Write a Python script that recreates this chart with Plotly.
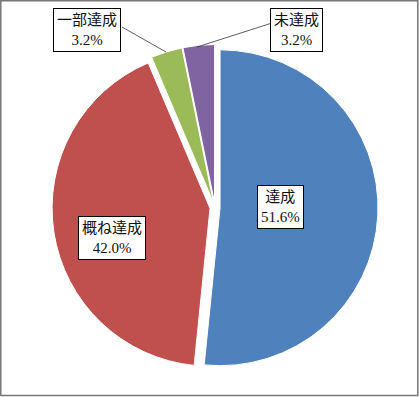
import plotly.graph_objects as go

labels = ["達成", "概ね達成", "一部達成", "未達成"]
values = [51.6, 42.0, 3.2, 3.2]
pct_text = ["51.6%", "42.0%", "3.2%", "3.2%"]
colors = ["#4F81BD", "#C0504D", "#9BBB59", "#8064A2"]
pulls = [0.032, 0.032, 0.032, 0.032]

W, H = 419, 397

def px(x):
    return x / W

def py(y):
    return 1 - y / H

fig = go.Figure(go.Pie(
    labels=labels,
    values=values,
    sort=False,
    direction="clockwise",
    rotation=0,
    pull=pulls,
    marker=dict(colors=colors, line=dict(color="white", width=1)),
    textinfo="none",
    hoverinfo="none",
    showlegend=False,
    domain=dict(x=[52 / W, 378 / W], y=[26.5 / H, 352.5 / H]),
))

font = dict(family="Liberation Serif, Noto Sans CJK JP", size=15, color="#111111")
# label box centres (px)
box_pos = [(280, 207), (112, 238), (87, 30), (296, 30)]
for (bx, by), lab, pt in zip(box_pos, labels, pct_text):
    fig.add_annotation(
        x=px(bx), y=py(by), xref="paper", yref="paper",
        xanchor="center", yanchor="middle",
        text=f"{lab}<br>{pt}", showarrow=False, font=font,
        bgcolor="white", bordercolor="#000000", borderwidth=1, borderpad=3,
        align="center",
    )

# leader lines
fig.add_shape(type="line", xref="paper", yref="paper",
              x0=px(122), y0=py(27), x1=px(166), y1=py(52),
              line=dict(color="#333333", width=0.8))
fig.add_shape(type="line", xref="paper", yref="paper",
              x0=px(272), y0=py(23), x1=px(197), y1=py(47),
              line=dict(color="#333333", width=0.8))

# outer border
fig.add_shape(type="rect", xref="paper", yref="paper",
              x0=px(0.8), y0=py(395.5), x1=px(417.8), y1=py(0.8),
              line=dict(color="#777777", width=1.5))

fig.update_layout(
    width=W, height=H,
    margin=dict(l=0, r=0, t=0, b=0),
    paper_bgcolor="white",
    plot_bgcolor="white",
)

fig.write_html("out.html", config={"displayModeBar": False},
               post_script="document.body.style.margin='0';")
